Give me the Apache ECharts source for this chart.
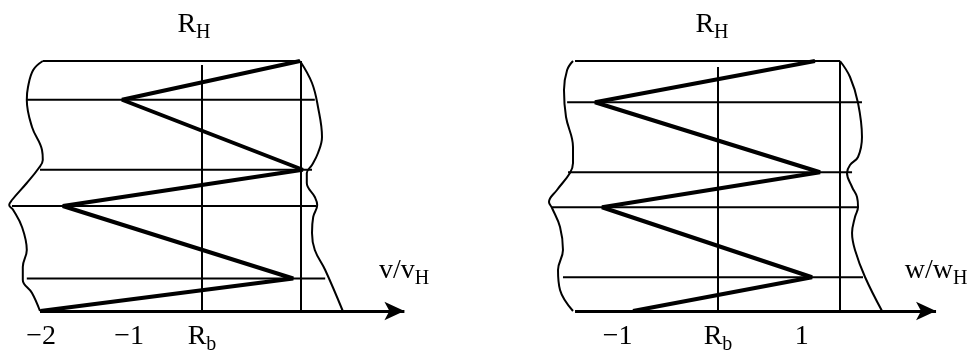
<!DOCTYPE html>
<html>
<head>
<meta charset="utf-8">
<script src="https://cdn.jsdelivr.net/npm/echarts@6/dist/echarts.min.js"></script>
<style>
html, body { margin: 0; padding: 0; background: #fff; }
#main { width: 971px; height: 352px; }
</style>
</head>
<body>
<div id="main"></div>
<script>
// y = height above the bottom line (0 .. 10), x in units of v/vH or w/wH, R_b = 0

// ---------- left panel (v/vH) ----------
var leftLevels = [10, 8.45, 5.65, 4.2, 1.3];
var leftLineFrom = [-1.99, -2.19, -2.025, -2.375, -2.19];
var leftLineTo = [1.225, 1.41, 1.375, 1.425, 1.54];
var leftZigX = [1.225, -1.0, 1.26, -1.74, 1.14, -2.02];
var leftZigY = [10, 8.45, 5.65, 4.2, 1.3, 0];
var leftEdgeAX = [-1.99, -2.11, -2.175, -2.19, -2.125, -2.0, -1.99, -2.04, -2.19, -2.375, -2.41, -2.36, -2.25, -2.19, -2.24, -2.24, -2.125, -2.025];
var leftEdgeAY = [10, 9.64, 8.96, 8.44, 7.36, 6.44, 6.04, 5.72, 5.12, 4.44, 4.24, 4.04, 3.36, 2.44, 1.76, 1.24, 0.72, 0];
var leftEdgeBX = [1.225, 1.375, 1.45, 1.5, 1.45, 1.375, 1.31, 1.31, 1.41, 1.44, 1.39, 1.375, 1.41, 1.54, 1.76];
var leftEdgeBY = [10, 9.12, 8.16, 6.96, 6.32, 5.84, 5.52, 5.12, 4.56, 4.24, 3.76, 3.12, 2.44, 1.64, 0];
var leftVertX = [0, 1.2375];
var leftVertTop = [9.84, 10];
var leftBase = [-2.025, 2.53];
var leftTickPos = [-2.01, -0.91, 0];
var leftTickText = ['−2', '−1', 'Rb'];

// ---------- right panel (w/wH) ----------
var rightLevels = [10, 8.35, 5.55, 4.15, 1.35];
var rightLineFrom = [-1.554, -1.64, -1.63, -1.804, -1.685];
var rightLineTo = [1.326, 1.565, 1.457, 1.522, 1.576];
var rightZigX = [1.054, -1.337, 1.109, -1.261, 1.022, -0.924];
var rightZigY = [10, 8.35, 5.55, 4.15, 1.35, 0];
var rightEdgeAX = [-1.576, -1.64, -1.674, -1.652, -1.576, -1.576, -1.609, -1.75, -1.837, -1.804, -1.717, -1.685, -1.739, -1.717, -1.576];
var rightEdgeAY = [10, 9.64, 8.84, 7.76, 6.56, 5.92, 5.52, 4.84, 4.36, 4.12, 3.36, 2.44, 1.64, 0.84, 0];
var rightEdgeBX = [1.326, 1.435, 1.522, 1.565, 1.522, 1.435, 1.402, 1.457, 1.511, 1.522, 1.489, 1.457, 1.489, 1.598, 1.783];
var rightEdgeBY = [10, 9.36, 8.32, 6.96, 6.16, 5.84, 5.52, 4.96, 4.56, 4.16, 3.76, 3.12, 2.44, 1.36, 0];
var rightVertX = [0, 1.326];
var rightVertTop = [9.76, 10];
var rightBase = [-1.554, 2.37];
var rightTickPos = [-1.09, 0, 0.91];
var rightTickText = ['−1', 'Rb', '1'];

var FONT = 'Liberation Serif';
var rich = {
    m: { fontFamily: FONT, fontSize: 28, fontWeight: 'normal', lineHeight: 32, verticalAlign: 'top', color: '#000' },
    s: { fontFamily: FONT, fontSize: 20, fontWeight: 'normal', lineHeight: 20, verticalAlign: 'bottom', color: '#000' }
};

function zip(xs, ys) {
    return xs.map(function (x, i) { return [x, ys[i]]; });
}

function line(idx, data, width, smooth) {
    return {
        type: 'line',
        xAxisIndex: idx,
        yAxisIndex: idx,
        data: data,
        smooth: smooth || false,
        symbol: 'none',
        clip: false,
        silent: true,
        animation: false,
        lineStyle: { color: '#000', width: width }
    };
}

function panelSeries(idx, levels, from, to, vertX, vertTop, zigX, zigY, eAX, eAY, eBX, eBY, base) {
    var list = [];
    levels.forEach(function (y, i) {
        list.push(line(idx, [[from[i], y], [to[i], y]], 2));
    });
    vertX.forEach(function (x, i) {
        list.push(line(idx, [[x, 0], [x, vertTop[i]]], 2));
    });
    list.push(line(idx, zip(eAX, eAY), 2, 0.4));
    list.push(line(idx, zip(eBX, eBY), 2, 0.4));
    var zig = line(idx, zip(zigX, zigY), 4);
    // bottom line with arrow
    zig.markLine = {
        silent: true,
        animation: false,
        symbol: ['none', 'arrow'],
        symbolSize: [14, 20],
        label: { show: false },
        lineStyle: { type: 'solid', color: '#000', width: 3 },
        data: [[{ coord: [base[0], 0] }, { coord: [base[1], 0] }]]
    };
    list.push(zig);
    return list;
}

function labelFmt(pos, text) {
    return function (v) {
        var t = text[pos.indexOf(v)];
        if (t === 'Rb') return '{m|R}{s|b}';
        return '{m|' + t + '}';
    };
}

function xAxis(idx, min, max, pos, text, name, gap) {
    return {
        type: 'value',
        gridIndex: idx,
        min: min,
        max: max,
        splitLine: { show: false },
        axisTick: { show: false },
        axisLine: { show: false },
        axisLabel: {
            customValues: pos,
            margin: 12,
            formatter: labelFmt(pos, text),
            rich: rich
        },
        name: name,
        nameLocation: 'end',
        nameGap: gap,
        nameTextStyle: {
            align: 'center',
            verticalAlign: 'bottom',
            padding: [0, 0, 22, 0],
            rich: rich
        }
    };
}

var chart = echarts.init(document.getElementById('main'));

var option = {
    backgroundColor: '#fff',
    animation: false,
    title: [
        { text: '{m|R}{s|H}', left: 194, top: 11, padding: 0, textAlign: 'center', textStyle: { fontWeight: 'normal', rich: rich } },
        { text: '{m|R}{s|H}', left: 712, top: 11, padding: 0, textAlign: 'center', textStyle: { fontWeight: 'normal', rich: rich } }
    ],
    grid: [
        { left: 8, top: 61, width: 412, height: 250, outerBoundsMode: 'none' },
        { left: 545, top: 61, width: 405, height: 250, outerBoundsMode: 'none' }
    ],
    xAxis: [
        xAxis(0, -2.425, 2.725, leftTickPos, leftTickText, '{m|v/v}{s|H}', -16),
        xAxis(1, -1.8804, 2.5217, rightTickPos, rightTickText, '{m|w/w}{s|H}', -14)
    ],
    yAxis: [
        { type: 'value', gridIndex: 0, min: 0, max: 10, show: false },
        { type: 'value', gridIndex: 1, min: 0, max: 10, show: false }
    ],
    series: [].concat(
        panelSeries(0, leftLevels, leftLineFrom, leftLineTo, leftVertX, leftVertTop,
            leftZigX, leftZigY, leftEdgeAX, leftEdgeAY, leftEdgeBX, leftEdgeBY, leftBase),
        panelSeries(1, rightLevels, rightLineFrom, rightLineTo, rightVertX, rightVertTop,
            rightZigX, rightZigY, rightEdgeAX, rightEdgeAY, rightEdgeBX, rightEdgeBY, rightBase)
    )
};

chart.setOption(option);
</script>
</body>
</html>
